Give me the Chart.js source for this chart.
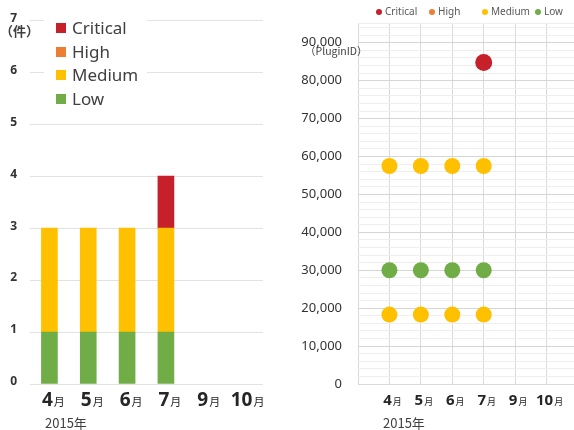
<!DOCTYPE html>
<html>
<head>
<meta charset="utf-8">
<script src="https://cdn.jsdelivr.net/npm/chart.js@4/dist/chart.umd.min.js"></script>
<style>
  html, body { margin: 0; padding: 0; overflow: hidden; background: #fff; width: 574px; height: 430px; }
  #wrapL { position: absolute; left: 0; top: 0; width: 290px; height: 430px; }
  #wrapR { position: absolute; left: 290px; top: 0; width: 300px; height: 430px; }
</style>
</head>
<body>
<div id="wrapL"><canvas id="countChart" width="290" height="430"></canvas></div>
<div id="wrapR"><canvas id="idChart" width="300" height="430"></canvas></div>
<script>
// Months shown on both charts (number + small 月 suffix)
const months = ['4', '5', '6', '7', '9', '10'];
const monthSuffix = '月';
const yearLabel = '2015年';

// Severity names and colours (legend order)
const severities = ['Critical', 'High', 'Medium', 'Low'];
const severityColors = ['#C6202A', '#ED7D31', '#FFC000', '#70AD47'];

// Left chart: number of findings per month by severity
const criticalCounts = [0, 0, 0, 1, 0, 0];
const highCounts     = [0, 0, 0, 0, 0, 0];
const mediumCounts   = [2, 2, 2, 2, 0, 0];
const lowCounts      = [1, 1, 1, 1, 0, 0];
const countTickLabels = ['0', '1', '2', '3', '4', '5', '6', '7'];
const countUnit = '（件）';

// Right chart: plugin IDs detected per month by severity
const criticalIds = [[], [], [], [84800], [], []];
const highIds     = [[], [], [], [], [], []];
const mediumIds   = [[57500, 18300], [57500, 18300], [57500, 18300], [57500, 18300], [], []];
const lowIds      = [[30000], [30000], [30000], [30000], [], []];
const idTickLabels = ['0', '10,000', '20,000', '30,000', '40,000', '50,000', '60,000', '70,000', '80,000', '90,000'];
const idUnit = '（PluginID）';
const idMax = 95000;
const idMajorStep = 10000;
const idMinorStep = 2000;

Chart.defaults.font.family = '"Noto Sans", "Noto Sans CJK JP", sans-serif';
Chart.defaults.animation = false;

const LATIN = '"Noto Sans", sans-serif';
const CJK = '"Noto Sans CJK JP", "Noto Sans", sans-serif';

// Month labels: big bold number followed by a small 月
function monthLabels(cfg) {
  return {
    id: 'monthLabels',
    afterDraw(chart) {
      const ctx = chart.ctx;
      const xs = chart.scales.x;
      ctx.save();
      ctx.textBaseline = 'alphabetic';
      ctx.textAlign = 'left';
      ctx.fillStyle = '#262626';
      months.forEach((m, i) => {
        const x = xs.getPixelForValue(cfg.valueAt(i));
        ctx.font = 'bold ' + cfg.big + 'px ' + LATIN;
        const w1 = ctx.measureText(m).width;
        ctx.font = cfg.small + 'px ' + CJK;
        const w2 = ctx.measureText(monthSuffix).width;
        const start = x + cfg.shift - (w1 + 1 + w2) / 2;
        ctx.font = 'bold ' + cfg.big + 'px ' + LATIN;
        ctx.fillText(m, start, cfg.y);
        ctx.font = cfg.small + 'px ' + CJK;
        ctx.fillText(monthSuffix, start + w1 + 1, cfg.y);
      });
      ctx.font = '13px ' + CJK;
      ctx.fillStyle = '#404040';
      ctx.fillText(yearLabel, cfg.yearX, cfg.yearY);
      ctx.restore();
    }
  };
}

// ---------- Left: stacked bar of counts ----------
const countLegend = {
  id: 'countLegend',
  afterDraw(chart) {
    const ctx = chart.ctx;
    ctx.save();
    ctx.fillStyle = '#ffffff';
    ctx.fillRect(44, 17, 103, 95);
    ctx.font = '17px ' + LATIN;
    ctx.textBaseline = 'middle';
    ctx.textAlign = 'left';
    const rows = [28, 52, 75, 99];
    severities.forEach((s, i) => {
      ctx.fillStyle = severityColors[i];
      ctx.fillRect(56, rows[i] - 5, 10, 10);
      ctx.fillStyle = '#404040';
      ctx.fillText(s, 72, rows[i] + 1);
    });
    ctx.font = 'bold 13px ' + CJK;
    ctx.fillStyle = '#404040';
    ctx.fillText(countUnit, 0, 31);
    ctx.restore();
  }
};

const countSeries = [lowCounts, mediumCounts, highCounts, criticalCounts];
new Chart(document.getElementById('countChart'), {
  type: 'bar',
  data: {
    labels: months,
    datasets: countSeries.map((vals, k) => ({
      label: severities[3 - k],
      // empty months are left out so no zero-height sliver is drawn
      data: vals.map((v) => (v === 0 ? null : v)),
      backgroundColor: severityColors[3 - k],
      borderWidth: 0,
      barThickness: 16
    }))
  },
  options: {
    responsive: false,
    devicePixelRatio: 1,
    layout: { padding: { top: 15, right: 27, left: 0, bottom: 0 } },
    plugins: { legend: { display: false }, tooltip: { enabled: false } },
    scales: {
      x: {
        stacked: true,
        grid: { display: false },
        border: { display: false },
        ticks: { display: false },
        afterFit(s) { s.height = 46; }
      },
      y: {
        stacked: true,
        min: 0, max: 7,
        grid: { color: '#e2e2e2', drawTicks: false },
        border: { display: false },
        ticks: {
          stepSize: 1,
          padding: 13,
          labelOffset: -2,
          color: '#333333',
          font: { size: 12, weight: 'bold', family: LATIN },
          callback: (v) => countTickLabels[v]
        },
        afterFit(s) { s.width = 30; }
      }
    }
  },
  plugins: [countLegend, monthLabels({ valueAt: (i) => i, big: 19, small: 11, shift: 4, y: 406, yearX: 45, yearY: 428 })]
});

// ---------- Right: plugin IDs per month ----------
const idLegend = {
  id: 'idLegend',
  afterDraw(chart) {
    const ctx = chart.ctx;
    ctx.save();
    ctx.font = '10px ' + LATIN;
    ctx.textBaseline = 'middle';
    ctx.textAlign = 'left';
    const dots = [89, 142, 195, 248];
    severities.forEach((s, i) => {
      ctx.fillStyle = severityColors[i];
      ctx.beginPath();
      ctx.arc(dots[i], 12, 3, 0, Math.PI * 2);
      ctx.fill();
      ctx.fillStyle = '#595959';
      ctx.fillText(s, dots[i] + 6, 12.5);
    });
    ctx.font = '10.5px ' + CJK;
    ctx.fillStyle = '#404040';
    ctx.fillText(idUnit, 15, 51);
    ctx.restore();
  }
};

const toPoints = (ids) => ids.flatMap((list, i) => list.map((id) => ({ x: i + 1, y: id })));
const idSeries = [criticalIds, highIds, mediumIds, lowIds];

new Chart(document.getElementById('idChart'), {
  type: 'scatter',
  data: {
    datasets: idSeries.map((ids, k) => ({
      label: severities[k],
      data: toPoints(ids),
      backgroundColor: severityColors[k],
      borderWidth: 0,
      pointRadius: k === 0 ? 8.5 : 8,
      pointHoverRadius: 8
    }))
  },
  options: {
    responsive: false,
    devicePixelRatio: 1,
    layout: { padding: { top: 19, right: 12, left: 0, bottom: 0 } },
    plugins: { legend: { display: false }, tooltip: { enabled: false } },
    scales: {
      x: {
        type: 'linear',
        min: 0, max: 7,
        grid: { color: '#dadada', drawTicks: false },
        border: { display: true, color: '#dadada' },
        ticks: { display: false, stepSize: 1, autoSkip: false },
        afterFit(s) { s.height = 46; }
      },
      y: {
        min: 0, max: idMax,
        // minor grid every 2,000 with labelled major lines every 10,000
        afterBuildTicks(scale) {
          const t = [];
          for (let v = 0; v < idMax; v += idMinorStep) t.push({ value: v });
          t.push({ value: idMax });
          scale.ticks = t;
        },
        grid: {
          drawTicks: false,
          color: (c) => (c.tick && c.tick.value % idMajorStep === 0 ? '#d6d6d6' : '#eeeeee')
        },
        border: { display: false },
        ticks: {
          autoSkip: false,
          padding: 16,
          color: '#333333',
          font: { size: 13, family: LATIN },
          callback: (v) => (v % idMajorStep === 0 ? idTickLabels[v / idMajorStep] : '')
        },
        afterFit(s) { s.width = 68; }
      }
    }
  },
  plugins: [idLegend, monthLabels({ valueAt: (i) => i + 1, big: 15, small: 9, shift: 3, y: 405, yearX: 93, yearY: 428 })]
});
</script>
</body>
</html>
